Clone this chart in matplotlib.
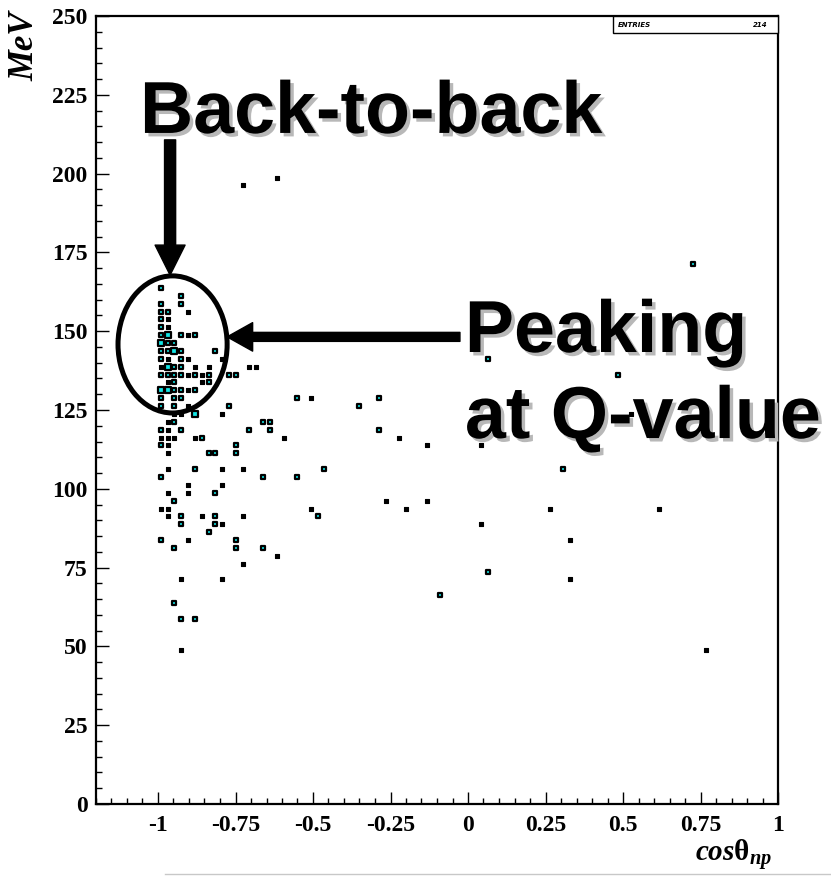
import matplotlib
matplotlib.use('Agg')
import matplotlib.pyplot as plt
import matplotlib.patheffects as pe
from matplotlib.patches import Ellipse, Rectangle
from matplotlib.lines import Line2D
from matplotlib.ticker import MultipleLocator, FuncFormatter

# === Data: filled bins of the 2D histogram (bin centre, content) ===
cos_np = [
    -0.617, -0.727, 0.725,
    -0.991, -0.925, -0.991, -0.925,
    -0.991, -0.969, -0.903,
    -0.991, -0.969,
    -0.991, -0.969,
    -0.991, -0.969, -0.925, -0.903, -0.881,
    -0.991, -0.969, -0.947,
    -0.991, -0.969, -0.947, -0.925, -0.815,
    -0.991, -0.969, -0.925, -0.903, -0.793, 0.065,
    -0.991, -0.969, -0.947, -0.925, -0.881, -0.837, -0.705, -0.683,
    -0.991, -0.969, -0.947, -0.925, -0.903, -0.881, -0.859, -0.837, -0.771, -0.749, 0.483,
    -0.969, -0.947, -0.859, -0.837,
    -0.991, -0.969, -0.947, -0.925, -0.903, -0.881,
    -0.991, -0.947, -0.925, -0.551, -0.507, -0.287,
    -0.991, -0.947, -0.903, -0.771, -0.353,
    -0.947, -0.925, -0.881, -0.793, 0.527,
    -0.969, -0.947, -0.661, -0.639,
    -0.991, -0.969, -0.925, -0.705, -0.639, -0.287,
    -0.991, -0.969, -0.947, -0.881, -0.859, -0.595, -0.221,
    -0.991, -0.969, -0.749, -0.133, 0.043,
    -0.969, -0.837, -0.815, -0.749,
    -0.969, -0.881, -0.793, -0.727, -0.463, 0.307,
    -0.991, -0.661, -0.551,
    -0.903, -0.793,
    -0.969, -0.903, -0.815,
    -0.947, -0.265, -0.133,
    -0.991, -0.969, -0.507, -0.199, 0.263, 0.615,
    -0.969, -0.925, -0.859, -0.815, -0.727, -0.485,
    -0.925, -0.815, -0.793, 0.043,
    -0.837,
    -0.991, -0.903, -0.749, 0.329,
    -0.947, -0.749, -0.661,
    -0.617,
    -0.727,
    0.065,
    -0.925, -0.793, 0.329,
    -0.089,
    -0.947,
    -0.925, -0.881,
    -0.925, 0.769,
]
energy = (
    [198.75, 196.25, 171.25]
    + [163.75, 161.25, 158.75, 158.75]
    + [156.25] * 3
    + [153.75] * 2
    + [151.25] * 2
    + [148.75] * 5
    + [146.25] * 3
    + [143.75] * 5
    + [141.25] * 6
    + [138.75] * 8
    + [136.25] * 11
    + [133.75] * 4
    + [131.25] * 6
    + [128.75] * 6
    + [126.25] * 5
    + [123.75] * 5
    + [121.25] * 4
    + [118.75] * 6
    + [116.25] * 7
    + [113.75] * 5
    + [111.25] * 4
    + [106.25] * 6
    + [103.75] * 3
    + [101.25] * 2
    + [98.75] * 3
    + [96.25] * 3
    + [93.75] * 6
    + [91.25] * 6
    + [88.75] * 4
    + [86.25]
    + [83.75] * 4
    + [81.25] * 3
    + [78.75, 76.25, 73.75]
    + [71.25] * 3
    + [66.25, 63.75, 58.75, 58.75, 48.75, 48.75]
)
counts = [
    1, 1, 2,
    2, 2, 2, 2,
    2, 2, 1,
    2, 1,
    2, 1,
    2, 3, 2, 1, 2,
    3, 2, 2,
    2, 2, 3, 2, 2,
    2, 1, 2, 1, 1, 2,
    1, 3, 2, 2, 1, 1, 1, 1,
    2, 2, 2, 2, 1, 2, 1, 2, 2, 2, 2,
    1, 2, 1, 2,
    3, 3, 2, 2, 1, 2,
    2, 2, 2, 2, 1, 2,
    2, 2, 1, 2, 2,
    1, 1, 3, 1, 1,
    1, 2, 2, 2,
    2, 1, 2, 2, 2, 2,
    1, 1, 1, 1, 2, 1, 1,
    2, 1, 2, 1, 1,
    1, 2, 2, 2,
    1, 2, 1, 1, 2, 2,
    2, 2, 2,
    1, 1,
    1, 1, 2,
    2, 1, 1,
    1, 1, 1, 1, 1, 1,
    1, 2, 1, 2, 1, 2,
    2, 2, 1, 1,
    2,
    2, 1, 2, 1,
    2, 2, 2,
    1,
    1,
    2,
    1, 1, 1,
    2,
    2,
    2, 2,
    1, 1,
]
x_ticks = [-1, -0.75, -0.5, -0.25, 0, 0.25, 0.5, 0.75, 1]
entries = 214

# === Figure setup ===
plt.rcParams['mathtext.fontset'] = 'custom'
plt.rcParams['mathtext.rm'] = 'Liberation Serif:bold'
plt.rcParams['mathtext.it'] = 'Liberation Serif:italic:bold'
plt.rcParams['mathtext.bf'] = 'Liberation Serif:bold'

fig = plt.figure(figsize=(8.31, 8.77), dpi=100)
ax = fig.add_axes([96 / 831, 1 - 804 / 877, 682 / 831, 788 / 877])
ax.set_xlim(-1.2, 1.0)
ax.set_ylim(0, 250)

# box markers: black outline, cyan fill growing with content
box_style = {
    1: dict(s=10.0, facecolor='black', edgecolor='black', linewidths=0.8),
    2: dict(s=12.5, facecolor='#12e6e6', edgecolor='black', linewidths=1.6),
    3: dict(s=21.0, facecolor='#12e6e6', edgecolor='black', linewidths=1.6),
}
for c, style in box_style.items():
    xs = [x for x, n in zip(cos_np, counts) if n == c]
    ys = [y for y, n in zip(energy, counts) if n == c]
    ax.scatter(xs, ys, marker='s', zorder=3, **style)

# === Axes styling (ROOT look) ===
for side in ['left', 'right', 'top', 'bottom']:
    ax.spines[side].set_linewidth(1.6)
ax.xaxis.set_minor_locator(MultipleLocator(0.05))
ax.yaxis.set_major_locator(MultipleLocator(25))
ax.yaxis.set_minor_locator(MultipleLocator(5))
ax.set_xticks(x_ticks)
ax.xaxis.set_major_formatter(FuncFormatter(lambda v, p: '%g' % v))
ax.tick_params(which='both', direction='in', top=False, right=False, width=1.0)
ax.tick_params(which='major', length=9)
ax.tick_params(which='minor', length=4.5)
ax.tick_params(axis='x', pad=8)
ax.tick_params(axis='y', pad=6)
for lab in ax.get_xticklabels() + ax.get_yticklabels():
    lab.set_fontfamily('Liberation Serif')
    lab.set_fontweight('bold')
    lab.set_fontsize(17)

fig.text(25 / 831, 1 - 12 / 877, 'MeV', rotation=90, ha='center', va='top',
         family='Liberation Serif', weight='bold', style='italic', fontsize=25)
fig.text(772 / 831, 1 - 862 / 877, r'$cos\mathrm{\theta}_{np}$', ha='right',
         va='baseline', fontsize=21)

# statistics box
ax.add_patch(Rectangle((0.758, 0.978), 0.242, 0.022, transform=ax.transAxes,
                       facecolor='white', edgecolor='black', lw=1.0, zorder=4,
                       clip_on=False))
ax.text(0.765, 0.989, 'ENTRIES', transform=ax.transAxes, fontsize=5,
        style='italic', weight='bold', va='center', ha='left', zorder=5)
ax.text(0.985, 0.989, str(entries), transform=ax.transAxes, fontsize=5,
        style='italic', weight='bold', va='center', ha='right', zorder=5)

# === Annotations ===
shadow = [pe.withSimplePatchShadow(offset=(2.5, -2.5), shadow_rgbFace='#b8b8b8', alpha=1.0)]
big = dict(family='Liberation Sans', weight='bold', fontsize=53, color='black',
           path_effects=shadow, zorder=6, ha='left', va='baseline')
ax.text(-1.058, 212.9, 'Back-to-back', **big)
ax.text(-0.010, 143.4, 'Peaking', **big)
ax.text(-0.010, 116.1, 'at Q-value', **big)

ax.add_patch(Ellipse((-0.953, 145.8), 0.352, 43.5, fill=False, edgecolor='black',
                     lw=3.6, zorder=5))
ax.annotate('', xy=(-0.961, 167.8), xytext=(-0.961, 210.7),
            arrowprops=dict(arrowstyle='simple,head_length=1.0,head_width=1.0,tail_width=0.37',
                            mutation_scale=21.6, facecolor='black', edgecolor='black',
                            shrinkA=0, shrinkB=0), zorder=6)
ax.annotate('', xy=(-0.777, 148.2), xytext=(-0.026, 148.2),
            arrowprops=dict(arrowstyle='simple,head_length=0.85,head_width=0.95,tail_width=0.3',
                            mutation_scale=21.6, facecolor='black', edgecolor='black',
                            shrinkA=0, shrinkB=0), zorder=6)

# faint slide rule line at the bottom
fig.add_artist(Line2D([165 / 831, 1.0], [1 - 874 / 877] * 2, color='#c8c8c8', lw=1.0))

fig.savefig('out.png', dpi=100)
